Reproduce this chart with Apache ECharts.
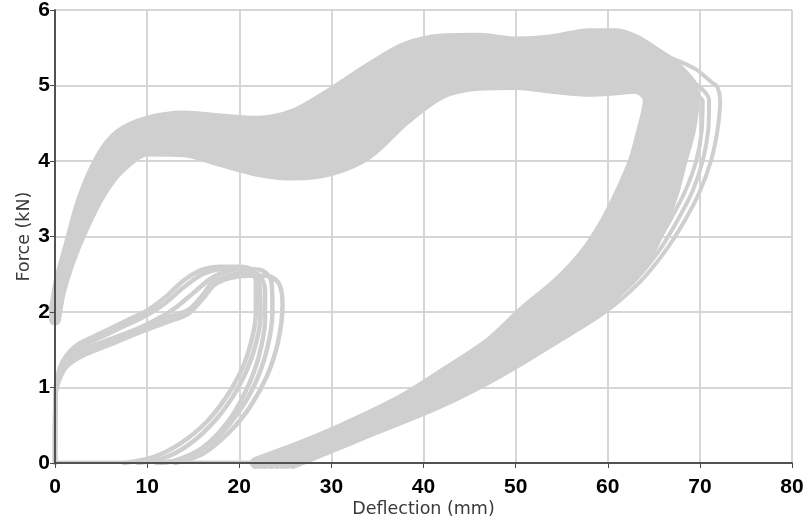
<!DOCTYPE html>
<html>
<head>
<meta charset="utf-8">
<script src="https://cdn.jsdelivr.net/npm/echarts@6/dist/echarts.min.js"></script>
<style>html,body{margin:0;padding:0;background:#fff}#c{width:806px;height:521px}</style>
</head>
<body>
<div id="c"></div>
<script>
// ---- axes ----
const xTicks = [0, 10, 20, 30, 40, 50, 60, 70, 80];
const yTicks = [0, 1, 2, 3, 4, 5, 6];
const xTitle = 'Deflection (mm)';
const yTitle = 'Force (kN)';

// ---- large loops: loading branch (force read at shared deflections) ----
const loadX = [0, 0.5, 1.5, 3, 5, 7, 10, 14, 18, 22, 26, 30, 34, 38, 42, 46, 50, 54, 58, 61];
const loadForce = [
  [2.02, 2.40, 2.85, 3.50, 4.05, 4.35, 4.52, 4.59, 4.55, 4.52, 4.62, 4.90, 5.22, 5.50, 5.61, 5.62, 5.57, 5.60, 5.68, 5.68],
  [1.98, 2.38, 2.82, 3.44, 3.98, 4.29, 4.47, 4.52, 4.47, 4.43, 4.51, 4.75, 5.06, 5.36, 5.51, 5.53, 5.49, 5.51, 5.57, 5.58],
  [2.00, 2.36, 2.79, 3.39, 3.92, 4.22, 4.41, 4.46, 4.39, 4.33, 4.39, 4.61, 4.90, 5.23, 5.41, 5.45, 5.41, 5.42, 5.47, 5.47],
  [1.95, 2.34, 2.76, 3.33, 3.85, 4.16, 4.36, 4.39, 4.31, 4.24, 4.28, 4.46, 4.74, 5.09, 5.31, 5.36, 5.33, 5.33, 5.36, 5.37],
  [1.97, 2.31, 2.74, 3.27, 3.78, 4.09, 4.30, 4.33, 4.24, 4.15, 4.16, 4.32, 4.58, 4.96, 5.20, 5.27, 5.26, 5.24, 5.25, 5.26],
  [1.92, 2.29, 2.71, 3.21, 3.71, 4.03, 4.25, 4.26, 4.16, 4.06, 4.05, 4.17, 4.42, 4.82, 5.10, 5.18, 5.18, 5.15, 5.14, 5.16],
  [1.94, 2.27, 2.68, 3.16, 3.65, 3.96, 4.19, 4.20, 4.08, 3.96, 3.93, 4.03, 4.26, 4.69, 5.00, 5.10, 5.10, 5.06, 5.04, 5.05],
  [1.90, 2.25, 2.65, 3.10, 3.58, 3.90, 4.14, 4.13, 4.00, 3.87, 3.82, 3.88, 4.10, 4.55, 4.90, 5.01, 5.02, 4.97, 4.93, 4.95]
];
// ---- large loops: turn-around points near peak deflection ----
const turnPts = [
  [[63, 5.60], [65, 5.45], [67, 5.28], [68.5, 5.10], [69.1, 5.00]],
  [[63, 5.50], [65, 5.35], [66.8, 5.15], [68.0, 4.98]],
  [[63, 5.40], [64.8, 5.25], [66.3, 5.05], [67.5, 4.90]],
  [[63, 5.30], [64.6, 5.15], [66.0, 4.98]],
  [[63, 5.20], [64.5, 5.06], [65.8, 4.92]],
  [[62.8, 5.12], [64.3, 5.00], [65.4, 4.90]],
  [[62.8, 5.04], [64.0, 4.95], [64.8, 4.87]],
  [[63, 4.97], [64.1, 4.90]]
];
// ---- large loops: unloading branch (deflection read at shared forces) ----
const unloadF = [4.8, 4.4, 4.0, 3.6, 3.2, 2.8, 2.4, 2.0, 1.6, 1.2, 0.8, 0.4, 0.2, 0.0];
const unloadDefl = [
  [69.3, 68.9, 68.0, 67.15, 66.0, 64.5, 62.1, 58.4, 53.6, 48.2, 41.8, 33.8, 29.8, 25.8],
  [68.6, 68.2, 67.3, 66.3, 65.1, 63.5, 61.0, 57.3, 52.7, 47.4, 41.1, 33.3, 29.3, 25.2],
  [67.9, 67.4, 66.5, 65.5, 64.2, 62.6, 60.0, 56.2, 51.8, 46.5, 40.5, 32.8, 28.8, 24.7],
  [67.2, 66.7, 65.8, 64.7, 63.3, 61.6, 58.9, 55.1, 50.9, 45.7, 39.8, 32.3, 28.3, 24.1],
  [66.5, 65.95, 65.05, 63.9, 62.45, 60.6, 57.9, 54.1, 50.0, 44.9, 39.1, 31.7, 27.7, 23.5],
  [65.8, 65.2, 64.3, 63.1, 61.6, 59.6, 56.8, 53.0, 49.1, 44.1, 38.4, 31.2, 27.2, 22.9],
  [65.1, 64.5, 63.6, 62.3, 60.7, 58.7, 55.8, 51.9, 48.2, 43.2, 37.8, 30.7, 26.7, 22.4],
  [64.45, 63.75, 62.85, 61.45, 59.8, 57.7, 54.7, 50.8, 47.3, 42.4, 37.1, 30.2, 26.2, 21.8]
];
// ---- a few separate outer loops reaching farthest ----
const outerLoad = [
  [1.99, 2.39, 2.84, 3.47, 4.00, 4.31, 4.49, 4.55, 4.50, 4.47, 4.56, 4.82, 5.14, 5.43, 5.56, 5.57, 5.53, 5.55, 5.62, 5.63],
  [1.96, 2.35, 2.78, 3.38, 3.90, 4.20, 4.38, 4.42, 4.36, 4.30, 4.36, 4.58, 4.88, 5.20, 5.38, 5.42, 5.38, 5.39, 5.45, 5.46],
  [1.95, 2.33, 2.75, 3.31, 3.83, 4.14, 4.33, 4.36, 4.28, 4.21, 4.25, 4.43, 4.70, 5.05, 5.28, 5.33, 5.30, 5.30, 5.33, 5.34]
];
const outerTurn = [
  [[64, 5.52], [67, 5.36], [69.5, 5.22], [71.3, 5.04], [71.9, 4.98]],
  [[64, 5.36], [67, 5.20], [69.2, 5.05], [70.5, 4.92]],
  [[64, 5.25], [66.8, 5.08], [68.8, 4.95], [69.8, 4.86]]
];
const outerUnload = [
  [72.2, 71.9, 71.2, 70.0, 68.3, 66.2, 63.5, 59.7, 54.5, 49.0, 42.4, 34.3, 30.2, 26.2],
  [71.0, 70.9, 70.3, 69.2, 67.5, 65.5, 62.8, 59.0, 54.0, 48.6, 42.0, 34.0, 30.0, 25.9],
  [70.3, 70.2, 69.6, 68.4, 66.7, 64.7, 62.0, 58.3, 53.7, 48.4, 41.9, 33.9, 29.9, 25.8]
];
// ---- small loops ----
const small1 = [[0,0],[0.05,0.8],[0.3,1.15],[1,1.38],[2.5,1.57],[5,1.72],[8,1.9],[10,2.02],[12,2.2],[14,2.42],[16,2.56],[18,2.6],[20,2.6],[21.2,2.57],[21.8,2.4],[21.8,2.0],[20.8,1.4],[19,0.95],[16.5,0.55],[13.5,0.25],[10.5,0.07],[7.5,0]];
const small2 = [[0,0],[0.05,0.85],[0.3,1.12],[1,1.33],[2.5,1.52],[5,1.67],[8,1.84],[10,1.96],[12,2.12],[14,2.33],[16,2.5],[18,2.57],[20,2.58],[21.5,2.55],[22.2,2.35],[22.3,1.95],[21.5,1.45],[19.8,0.98],[17.5,0.58],[14.5,0.24],[11.5,0.05],[9,0]];
const small3 = [[0,0],[0.05,0.9],[0.4,1.1],[1.2,1.3],[3,1.46],[6,1.62],[9,1.77],[12,1.92],[14.5,2.03],[16,2.22],[17,2.38],[18.5,2.47],[20.5,2.52],[22,2.5],[22.8,2.3],[22.8,1.9],[22.1,1.4],[20.7,0.95],[18.8,0.55],[16,0.2],[13,0.03],[11,0]];
const small4 = [[0,0],[0.05,0.9],[0.4,1.08],[1.2,1.27],[3,1.42],[6,1.57],[9,1.72],[12,1.86],[14.5,1.98],[16.2,2.2],[17.3,2.36],[19,2.45],[21,2.48],[23,2.48],[24.3,2.38],[24.7,2.1],[24.2,1.6],[23,1.15],[21.2,0.75],[19,0.42],[16,0.12],[13,0]];
const small5 = [[0,0],[0.05,0.95],[0.3,1.15],[1,1.35],[3,1.5],[6,1.64],[9,1.78],[11,1.9],[13,2.05],[15,2.25],[17,2.45],[19,2.55],[21,2.57],[22.5,2.55],[23.5,2.4],[23.6,2.0],[23,1.5],[21.6,1.02],[19.5,0.6],[17,0.27],[14,0.06],[11.5,0]];
const baseline = [[0, 0.015], [26, 0.015]];

// ---- build ----
const GRAY = '#cfcfcf';
function loopData(load, turn, unload) {
  const pts = loadX.map((x, i) => [x, load[i]]);
  turn.forEach(p => pts.push(p));
  unload.forEach((x, i) => pts.push([x, unloadF[i]]));
  return pts;
}
const series = [];
function addLine(data, width) {
  series.push({
    type: 'line', data: data, xAxisIndex: 0, yAxisIndex: 0,
    symbol: 'none', smooth: 0.3, silent: true, clip: true,
    lineStyle: { color: GRAY, width: width, cap: 'round', join: 'round' }
  });
}
loadForce.forEach((f, k) => addLine(loopData(f, turnPts[k], unloadDefl[k]), 12));
outerLoad.forEach((f, k) => addLine(loopData(f, outerTurn[k], outerUnload[k]), 4));
[small1, small2, small3, small4, small5].forEach(d => addLine(d, 4.5));
addLine(baseline, 2.5);

const gridRect = { left: 55, right: 14, top: 10, bottom: 58, containLabel: false, outerBoundsMode: 'none' };
const labelFont = { fontFamily: 'Liberation Sans, Arial, sans-serif', fontWeight: 'bold', fontSize: 21, color: '#000' };
const titleFont = { fontFamily: 'DejaVu Sans, Verdana, sans-serif', fontSize: 17.5, color: '#3a3a3a' };
const AX = '#4a4a4a';
const option = {
  animation: false,
  backgroundColor: '#fff',
  grid: [Object.assign({}, gridRect), Object.assign({}, gridRect)],
  xAxis: [
    { type: 'value', gridIndex: 0, min: xTicks[0], max: xTicks[xTicks.length - 1], interval: 10, position: 'bottom',
      axisLine: { show: false }, axisTick: { show: false },
      axisLabel: Object.assign({ margin: 14 }, labelFont),
      splitLine: { show: true, lineStyle: { color: '#d6d6d6', width: 2 } },
      name: xTitle, nameLocation: 'middle', nameGap: 37, nameMoveOverlap: false, nameTextStyle: titleFont },
    { type: 'value', gridIndex: 1, min: 0, max: 80, interval: 10, position: 'bottom', z: 10,
      axisLine: { show: true, lineStyle: { color: AX, width: 1.5 } },
      axisTick: { show: true, length: 5, lineStyle: { color: AX, width: 1 } },
      axisLabel: { show: false }, splitLine: { show: false } },
    { type: 'value', gridIndex: 1, min: 0, max: 80, interval: 10, position: 'top', z: 10,
      axisLine: { show: true, lineStyle: { color: AX, width: 1.5 } },
      axisTick: { show: false }, axisLabel: { show: false }, splitLine: { show: false } }
  ],
  yAxis: [
    { type: 'value', gridIndex: 0, min: yTicks[0], max: yTicks[yTicks.length - 1], interval: 1, position: 'left',
      axisLine: { show: false }, axisTick: { show: false },
      axisLabel: Object.assign({ margin: 5 }, labelFont),
      splitLine: { show: true, lineStyle: { color: '#d6d6d6', width: 2 } },
      name: yTitle, nameLocation: 'middle', nameGap: 22, nameRotate: 90, nameMoveOverlap: false, nameTextStyle: titleFont },
    { type: 'value', gridIndex: 1, min: 0, max: 6, interval: 1, position: 'left', z: 10,
      axisLine: { show: true, lineStyle: { color: AX, width: 1.5 } },
      axisTick: { show: true, length: 5, lineStyle: { color: AX, width: 1 } },
      axisLabel: { show: false }, splitLine: { show: false } },
    { type: 'value', gridIndex: 1, min: 0, max: 6, interval: 1, position: 'right', z: 10,
      axisLine: { show: true, lineStyle: { color: AX, width: 1.5 } },
      axisTick: { show: false }, axisLabel: { show: false }, splitLine: { show: false } }
  ],
  series: series
};
const chart = echarts.init(document.getElementById('c'), null, { renderer: 'canvas' });
chart.setOption(option);
</script>
</body>
</html>
